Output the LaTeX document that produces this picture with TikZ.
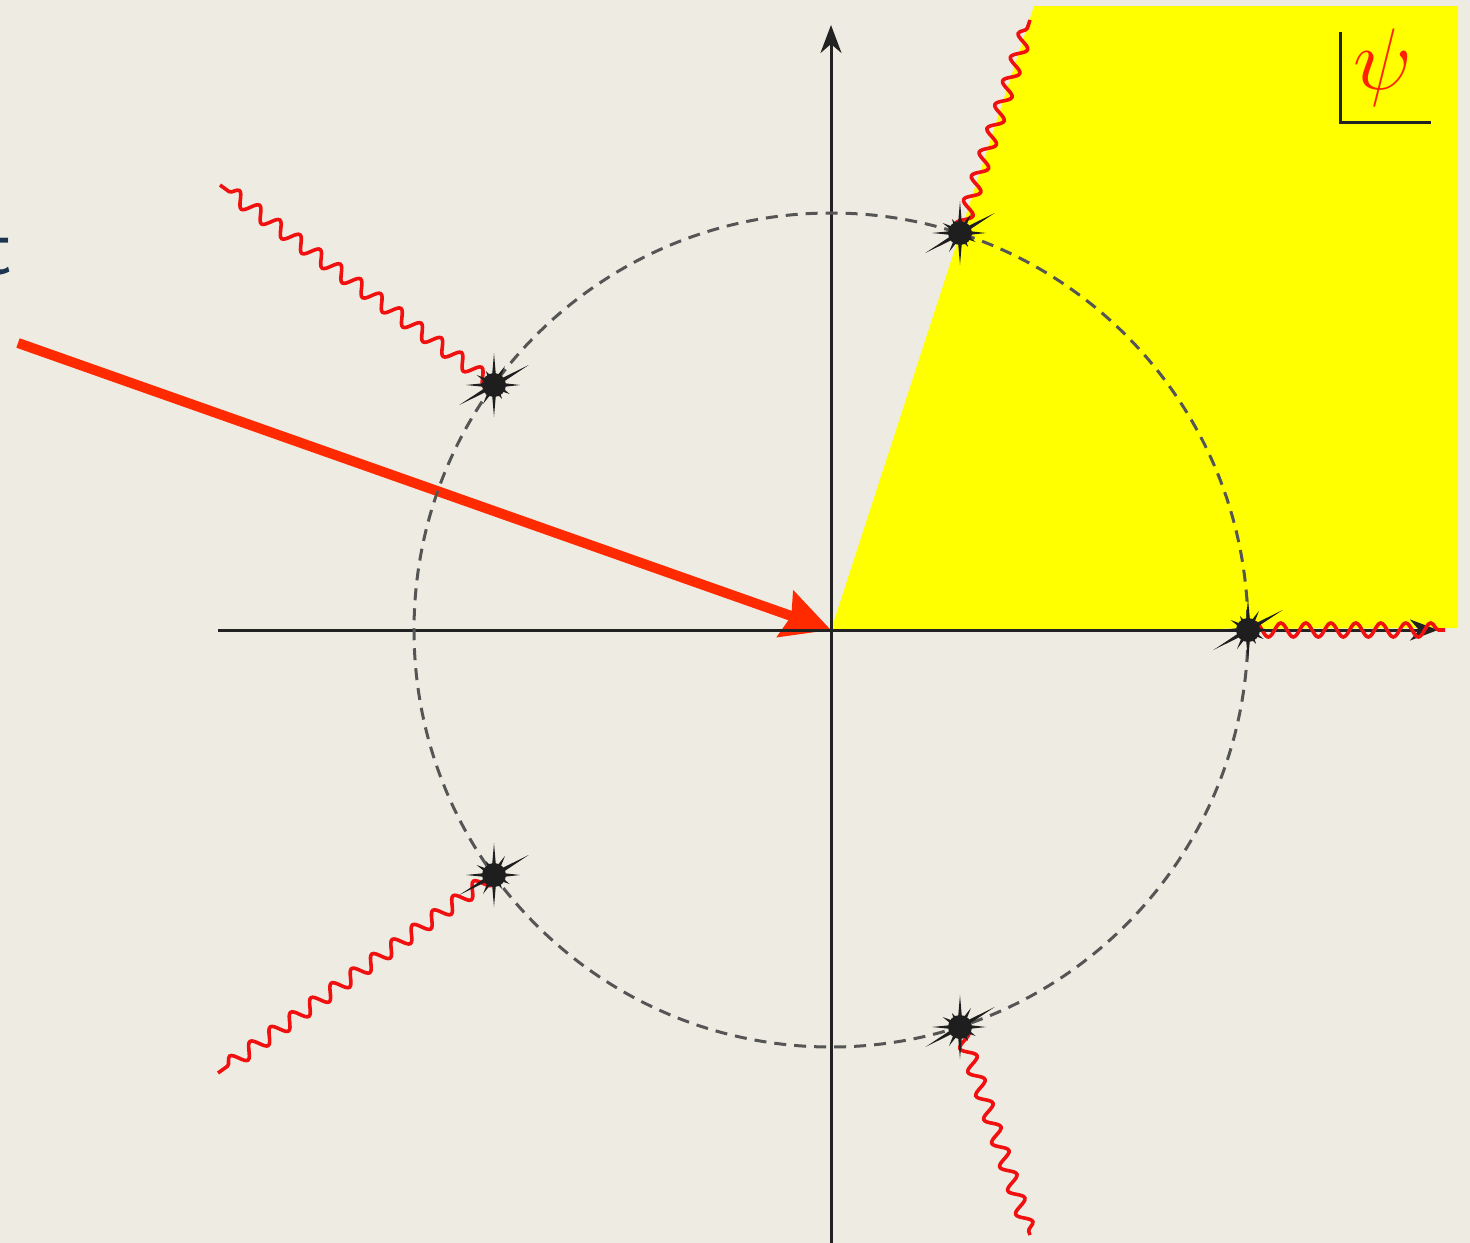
\documentclass[tikz,border=0pt]{standalone}
\usepackage{fontspec}
\usetikzlibrary{arrows.meta,decorations.pathmorphing}
\definecolor{bg}{HTML}{EEECE2}
\definecolor{axisc}{HTML}{222222}
\definecolor{circc}{HTML}{555555}
\definecolor{wavec}{HTML}{F01010}
\definecolor{arrowc}{HTML}{FF2A00}
\definecolor{psic}{HTML}{FF2200}
\definecolor{navy}{HTML}{1B3550}
\definecolor{starc}{HTML}{1E1E1E}
\definecolor{wedge}{HTML}{FFFF00}
\tikzset{
  axis/.style={draw=axisc, line width=0.3mm, -{Stealth[length=2.8mm,width=2.1mm,inset=0.9mm]}},
  ring/.style={draw=circc, line width=0.3mm, dash pattern=on 1.2mm off 0.8mm},
  wave/.style={draw=wavec, line width=0.36mm, decorate, decoration={snake, amplitude=0.7mm, segment length=2.5mm}},
  bigarrow/.style={draw=arrowc, line width=1mm, -{Stealth[length=4.8mm,width=4.8mm,inset=0.6mm]}},
  burst/.pic={
    \fill[starc] (0:26) -- (15:8) -- (30:18) -- (45:8) -- (60:16) -- (75:8) -- (90:32) -- (105:8)
      -- (120:22) -- (135:8) -- (150:40) -- (165:8) -- (180:28) -- (195:8) -- (210:20) -- (225:8)
      -- (240:16) -- (255:8) -- (270:32) -- (285:8) -- (300:22) -- (315:8) -- (330:40) -- (345:8) -- cycle;
    \fill[starc] (0,0) circle (12);
  }
}
\begin{document}
\begin{tikzpicture}[x=0.1mm,y=-0.1mm]
\useasboundingbox (0,0) rectangle (1470,1243);
\fill[bg] (0,0) rectangle (1470,1243);
\begin{scope}
\clip (0,0) rectangle (1470,1243);
% points
\coordinate (O) at (831,630);
\coordinate (s0) at (1248,630);
\coordinate (s1) at (960,233);
\coordinate (s2) at (494,385);
\coordinate (s3) at (494,875);
\coordinate (s4) at (960,1027);
\coordinate (w0) at (1445,630);
\coordinate (w1) at (1030,20);
\coordinate (w2) at (220,185);
\coordinate (w3) at (218,1073);
\coordinate (w4) at (1030,1235);
\coordinate (xa) at (218,630);
\coordinate (xb) at (1438,630);
\coordinate (ya) at (831,1243);
\coordinate (yb) at (831,25);
\coordinate (as) at (18,343);
% yellow wedge
\fill[wedge] (O) -- (1034,6) -- (1458,6) -- (1458,628) -- cycle;
% left text (cut off at the edge, as in the reference)
\node[anchor=base east, inner sep=0, text=navy, font=\sffamily\fontsize{24}{26}\selectfont] (tlbl) at (13,274) {t};
% red arrow
\draw[bigarrow] (as) -- (O);
% axes
\draw[axis] (xa) -- (xb);
\draw[axis] (ya) -- (yb);
% circle
\draw[ring] (O) circle (417);
% waves
\draw[wave] (s0) -- (w0);
\draw[wave] (s1) -- (w1);
\draw[wave] (s2) -- (w2);
\draw[wave] (s3) -- (w3);
\draw[wave] (s4) -- (w4);
% stars
\foreach \s in {s0,s1,s2,s3,s4} { \pic at (\s) {burst}; }
% psi label
\draw[draw=axisc, line width=0.3mm] (1340,32) -- (1340,122) -- (1431,122);
\node[text=psic, inner sep=0, font=\fontsize{28}{30}\selectfont] (psi) at (1383,68) {$\psi$};
\end{scope}
\end{tikzpicture}
\end{document}
